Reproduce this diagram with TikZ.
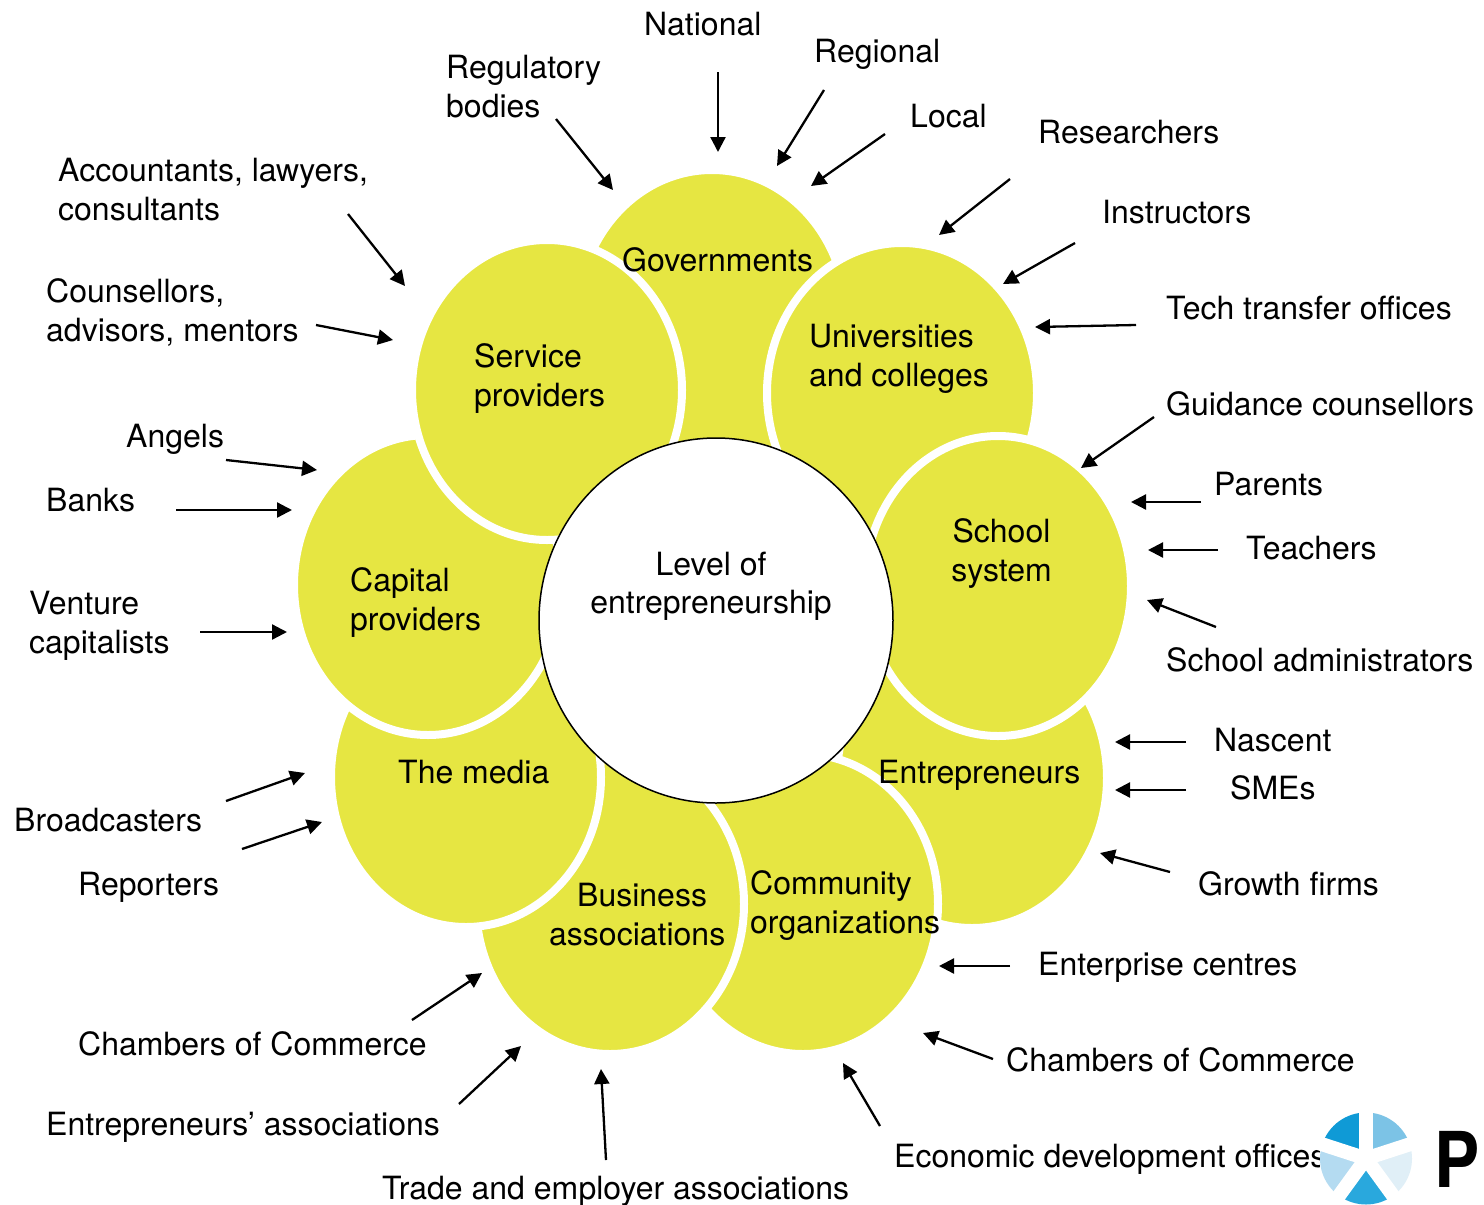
\documentclass[tikz,border=0pt]{standalone}
\usepackage{fontspec}
\setmainfont{TeX Gyre Heros}
\usetikzlibrary{arrows.meta,shapes.geometric}
\definecolor{petalyellow}{HTML}{E6E642}
\definecolor{logoa}{HTML}{0F9AD6}
\definecolor{logob}{HTML}{7CC3E6}
\definecolor{logoc}{HTML}{E0EFF7}
\definecolor{logod}{HTML}{29A8DD}
\definecolor{logoe}{HTML}{B4DBF1}
\tikzset{
  petal/.style={ellipse,fill=petalyellow,draw=white,line width=8pt,inner sep=0pt,
    minimum width=270pt,minimum height=300pt},
  lab/.style={anchor=base west,xshift=-1pt,yshift=1pt,inner sep=0pt,align=left,font=\fontsize{32}{38.5}\selectfont},
  mid/.style={anchor=base,inner sep=0pt,align=center,font=\fontsize{32}{38.5}\selectfont},
  pointer/.style={line width=2.3pt,-{Triangle[length=15pt,width=15pt]}}
}
\begin{document}
\begin{tikzpicture}[x=1pt,y=-1pt]
\useasboundingbox (0,0) rectangle (1484,1205);

% petals, bottom one first
\node[petal] (gov) at (712,320) {};
\node[petal] (entre) at (972,778) {};
\node[petal] (univ) at (902,393) {};
\node[petal,minimum width=266pt] (school) at (998,586) {};
\node[petal] (comm) at (803,904) {};
\node[petal,minimum width=268pt] (bus) at (610,904) {};
\node[petal] (media) at (466,777) {};
\node[petal,minimum width=268pt] (capital) at (428,585) {};
\node[petal] (service) at (547,390) {};
\node[ellipse,draw=black,line width=1.5pt,fill=white,inner sep=0pt,
  minimum width=354pt,minimum height=365pt] (level) at (716,620.5) {};

% petal texts
\node[mid] (levelT) at (711,613.5) {Level of\\entrepreneurship};
\node[lab] (govT) at (623,272) {Governments};
\node[lab] (univT) at (810,387) {Universities\\and colleges};
\node[mid] (schoolT) at (1001.5,581) {School\\system};
\node[lab] (entreT) at (879,784) {Entrepreneurs};
\node[lab] (commT) at (751,934) {Community\\organizations};
\node[lab] (busT) at (550,946) {\hspace*{28pt}Business\\associations};
\node[lab] (mediaT) at (399,784) {The media};
\node[lab] (capitalT) at (351,631) {Capital\\providers};
\node[lab] (serviceT) at (475,407) {Service\\providers};

% outer labels
\node[lab] (national) at (645,36) {National};
\node[lab] (regional) at (815,63) {Regional};
\node[lab] (local) at (911,128) {Local};
\node[lab] (regulatory) at (447,118) {Regulatory\\bodies};
\node[lab] (accountants) at (59,221) {Accountants, lawyers,\\consultants};
\node[lab] (counsellors) at (47,342) {Counsellors,\\advisors, mentors};
\node[lab] (angels) at (127,448) {Angels};
\node[lab] (banks) at (47,512) {Banks};
\node[lab] (venture) at (30,654) {Venture\\capitalists};
\node[lab] (broadcasters) at (15,832) {Broadcasters};
\node[lab] (reporters) at (79,896) {Reporters};
\node[lab] (chambersL) at (79,1056) {Chambers of Commerce};
\node[lab] (assoc) at (47,1136) {Entrepreneurs’ associations};
\node[lab] (trade) at (383,1200) {Trade and employer associations};
\node[lab] (economic) at (895,1168) {Economic development offices};
\node[lab] (chambersR) at (1007,1072) {Chambers of Commerce};
\node[lab] (enterprise) at (1039,976) {Enterprise centres};
\node[lab] (growth) at (1199,896) {Growth firms};
\node[lab] (smes) at (1231,800) {SMEs};
\node[lab] (nascent) at (1215,752) {Nascent};
\node[lab] (admin) at (1167,672) {School administrators};
\node[lab] (teachers) at (1247,560) {Teachers};
\node[lab] (parents) at (1215,496) {Parents};
\node[lab] (guidance) at (1167,416) {Guidance counsellors};
\node[lab] (tech) at (1167,320) {Tech transfer offices};
\node[lab] (instructors) at (1103,224) {Instructors};
\node[lab] (researchers) at (1039,144) {Researchers};

% arrows
\foreach \nm/\xa/\ya/\xb/\yb in {
  national/718/72/718/152, regional/824/90/777/166, local/885/134/811/186,
  regulatory/556/119/613/190, accountants/348/214/405/286, counsellors/316/325/393/340,
  angels/226/460/317/470, banks/176/510/292/510, venture/200/632/287/632,
  broadcasters/226/801/305/773, reporters/242/849/322/822, chambersL/412/1020/482/973,
  assoc/459/1104/521/1046, trade/606/1160/601/1069, economic/880/1126/843/1063,
  chambersR/993/1059/923/1033, enterprise/1010/966/939/966, growth/1170/872/1100/853,
  smes/1186/790/1115/790, nascent/1186/742/1115/742, admin/1216/627/1147/600,
  teachers/1218/550/1148/550, parents/1201/502/1131/502, guidance/1154/417/1081/468,
  tech/1136/325/1035/327, instructors/1075/243/1003/284, researchers/1010/179/939/235}
{
  \coordinate (\nm tail) at (\xa,\ya);
  \coordinate (\nm head) at (\xb,\yb);
  \draw[pointer] (\nm tail) -- (\nm head);
}

% logo
\fill[white] (1320,1112) rectangle (1418,1205);
\coordinate (logomid) at (1366,1158.5);
\foreach \from/\to/\col in {90/162/logoa,18/90/logob,-54/18/logoc,-126/-54/logod,162/234/logoe}
  \fill[\col] (logomid) -- ++(\from:46 and -46) arc[start angle=\from,end angle=\to,radius=46pt,y radius=46pt] -- cycle;
\foreach \ang in {90,18,162,-126,-54}
  \draw[white,line width=14pt] (logomid) -- ++(\ang:60 and -60);
\node[anchor=base west,inner sep=0pt,xscale=.88,font=\fontsize{77}{77}\selectfont\bfseries] (logoP) at (1434,1187) {P};

\end{tikzpicture}
\end{document}
